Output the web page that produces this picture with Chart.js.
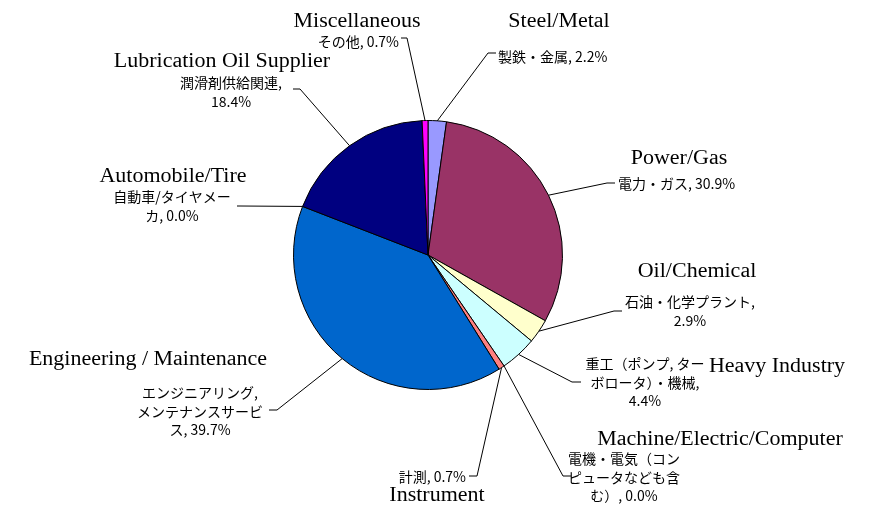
<!DOCTYPE html>
<html>
<head>
<meta charset="utf-8">
<script src="https://cdn.jsdelivr.net/npm/chart.js@4/dist/chart.umd.min.js"></script>
<style>
  html, body { margin: 0; padding: 0; background: #fff; }
  canvas { display: block; }
</style>
</head>
<body>
<canvas id="chartSectores" width="872" height="505"></canvas>
<script>
// ============================================================
// Participación por sector (gráfica de pastel)
// ============================================================

var categorias = ['Steel/Metal', 'Power/Gas', 'Oil/Chemical', 'Heavy Industry',
  'Machine/Electric/Computer', 'Instrument', 'Engineering / Maintenance',
  'Automobile/Tire', 'Lubrication Oil Supplier', 'Miscellaneous'];

var etiquetasJP = ['製鉄・金属', '電力・ガス', '石油・化学プラント', '重工（ポンプ, ターボロータ）・機械',
  '電機・電気（コンピュータなども含む）', '計測', 'エンジニアリング, メンテナンスサービス',
  '自動車/タイヤメーカ', '潤滑剤供給関連', 'その他'];

var participacion = [2.2, 30.9, 2.9, 4.4, 0.0, 0.7, 39.7, 0.0, 18.4, 0.7];

var colores = ['#9999FF', '#993366', '#FFFFCC', '#CCFFFF', '#660066',
  '#FF8080', '#0066CC', '#CCCCFF', '#000080', '#FF00FF'];

// posiciones de las etiquetas (solo maquetación)
var posiciones = [
  { en: [559, 27],  jp: [498, 57],  al: 'left',   cortes: [],     codo: [488, 53],  fin: [496, 53] },
  { en: [679, 164], jp: [618, 184], al: 'left',   cortes: [],     codo: [607, 183], fin: [615, 183] },
  { en: [697, 277], jp: [690, 302], al: 'center', cortes: [10],   codo: [614, 311], fin: [622, 311] },
  { en: [777, 372], jp: [645, 364], al: 'center', cortes: [10, 9], codo: [572, 382], fin: [581, 382] },
  { en: [720, 445], jp: [624, 459], al: 'center', cortes: [8, 8], codo: [563, 476], fin: [571, 476] },
  { en: [437, 501], jp: [466, 477], al: 'right',  cortes: [],     codo: [477, 476], fin: [469, 476] },
  { en: [148, 365], jp: [200, 393], al: 'center', cortes: [9, 9], codo: [277, 410], fin: [269, 410] },
  { en: [173, 182], jp: [172, 197], al: 'center', cortes: [9],    codo: [240, 206], fin: [237, 206] },
  { en: [222, 67],  jp: [231, 83],  al: 'center', cortes: [8],    codo: [300, 89],  fin: [293, 89] },
  { en: [357, 27],  jp: [399, 42],  al: 'right',  cortes: [],     codo: [407, 38],  fin: [401, 38] }
];

var ALTO_LINEA = 18.5;

function partirTexto(txt, cortes) {
  var lineas = [];
  var pos = 0;
  for (var i = 0; i < cortes.length; i++) {
    lineas.push(txt.substr(pos, cortes[i]));
    pos += cortes[i];
    while (txt.charAt(pos) === ' ') pos++;
  }
  lineas.push(txt.substr(pos));
  return lineas;
}

var pluginEtiquetas = {
  id: 'etiquetas',
  afterDraw: function (chart) {
    var ctx = chart.ctx;
    var arcos = chart.getDatasetMeta(0).data;

    for (var i = 0; i < arcos.length; i++) {
      var p = posiciones[i];
      var a = arcos[i].getProps(['x', 'y', 'startAngle', 'endAngle', 'outerRadius'], true);
      var ang = (a.startAngle + a.endAngle) / 2;
      var px = a.x + Math.cos(ang) * a.outerRadius;
      var py = a.y + Math.sin(ang) * a.outerRadius;

      // línea guía
      ctx.save();
      ctx.strokeStyle = '#000';
      ctx.lineWidth = 1;
      ctx.beginPath();
      ctx.moveTo(px, py);
      ctx.lineTo(p.codo[0], p.codo[1]);
      ctx.lineTo(p.fin[0], p.fin[1]);
      ctx.stroke();
      ctx.restore();

      // texto japonés
      var texto = etiquetasJP[i] + ', ' + participacion[i].toFixed(1) + '%';
      var lineas = partirTexto(texto, p.cortes);
      ctx.save();
      ctx.fillStyle = '#000';
      ctx.font = '14px "Noto Sans CJK JP", sans-serif';
      ctx.textAlign = p.al;
      ctx.textBaseline = 'middle';
      for (var j = 0; j < lineas.length; j++) {
        ctx.fillText(lineas[j], p.jp[0], p.jp[1] + j * ALTO_LINEA);
      }
      ctx.restore();

      // texto en inglés (serif algo ancho)
      ctx.save();
      ctx.fillStyle = '#000';
      ctx.font = '20px "Liberation Serif", "Times New Roman", serif';
      ctx.textAlign = 'center';
      ctx.textBaseline = 'alphabetic';
      ctx.translate(p.en[0], p.en[1]);
      ctx.scale(1.1, 1);
      ctx.fillText(categorias[i], 0, 0);
      ctx.restore();
    }
  }
};

var ctx = document.getElementById('chartSectores');

new Chart(ctx, {
  type: 'pie',
  data: {
    labels: categorias,
    datasets: [{
      data: participacion,
      backgroundColor: colores,
      borderColor: '#000',
      borderWidth: 1
    }]
  },
  options: {
    responsive: false,
    devicePixelRatio: 1,
    animation: false,
    events: [],
    layout: { padding: { left: 293, right: 309, top: 120, bottom: 115 } },
    plugins: {
      legend: { display: false },
      tooltip: { enabled: false }
    }
  },
  plugins: [pluginEtiquetas]
});
</script>
</body>
</html>
